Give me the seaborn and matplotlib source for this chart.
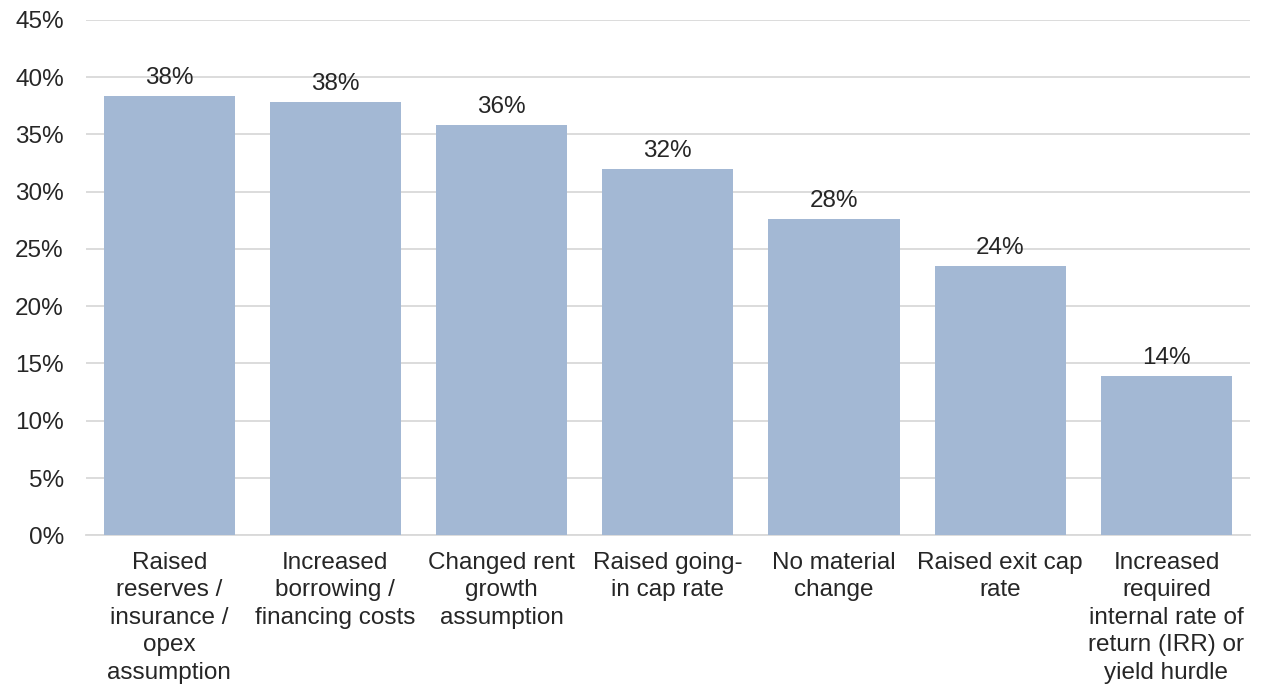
import matplotlib
matplotlib.use("Agg")
import matplotlib.pyplot as plt
import seaborn as sns
import pandas as pd
from matplotlib.ticker import PercentFormatter

categories = [
    "Raised\nreserves /\ninsurance /\nopex\nassumption",
    "Increased\nborrowing /\nfinancing costs",
    "Changed rent\ngrowth\nassumption",
    "Raised going-\nin cap rate",
    "No material\nchange",
    "Raised exit cap\nrate",
    "Increased\nrequired\ninternal rate of\nreturn (IRR) or\nyield hurdle",
]
values = [38.4, 37.8, 35.8, 32.0, 27.6, 23.5, 13.9]
labels = ["38%", "38%", "36%", "32%", "28%", "24%", "14%"]
yticks = [0, 5, 10, 15, 20, 25, 30, 35, 40, 45]

df = pd.DataFrame({"category": categories, "value": values})

sns.set_theme(style="white")
plt.rcParams["font.family"] = ["Liberation Sans", "DejaVu Sans"]

fig = plt.figure(figsize=(12.66, 6.88), dpi=100)
ax = fig.add_axes([0.068, 0.222, 0.919, 0.749])

sns.barplot(data=df, x="category", y="value", color="#A3B8D4",
            saturation=1, width=0.79, linewidth=0, ax=ax, zorder=3)

ax.set_ylim(0, 45)
ax.set_yticks(yticks)
ax.yaxis.set_major_formatter(PercentFormatter(decimals=0))
ax.grid(axis="y", color="#D9D9D9", linewidth=1.3, zorder=0)
ax.set_axisbelow(True)
for s in ["top", "right", "left"]:
    ax.spines[s].set_visible(False)
ax.spines["bottom"].set_color("#D9D9D9")
ax.spines["bottom"].set_linewidth(1.3)
ax.set_xlabel("")
ax.set_ylabel("")
ax.tick_params(axis="y", length=0, pad=16, labelsize=17.5, labelcolor="#262626")
ax.tick_params(axis="x", length=0, pad=12, labelsize=17.5, labelcolor="#262626")
for t in ax.get_xticklabels():
    t.set_linespacing(1.32)
    t.set_horizontalalignment("center")

for i, (v, lab) in enumerate(zip(values, labels)):
    ax.annotate(lab, (i, v), xytext=(0, 5), textcoords="offset points",
                ha="center", va="bottom", fontsize=17.5, color="#262626")

fig.savefig("out.png", dpi=100)
